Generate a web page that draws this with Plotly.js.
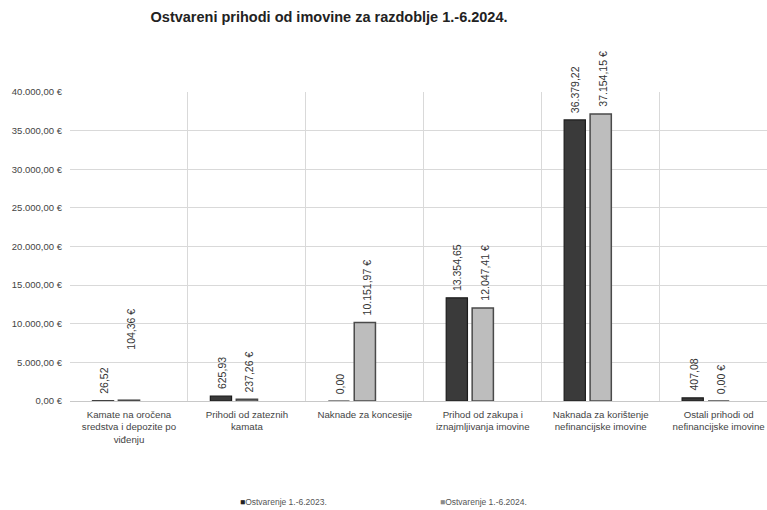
<!DOCTYPE html>
<html>
<head>
<meta charset="utf-8">
<script src="https://cdn.plot.ly/plotly-3.0.1.min.js"></script>
<style>html,body{margin:0;padding:0;background:#fff;}#chart{width:767px;height:510px;}</style>
</head>
<body>
<div id="chart"></div>
<script>
const categories = [
  "Kamate na oročena<br>sredstva i depozite po<br>viđenju",
  "Prihodi od zateznih<br>kamata",
  "Naknade za koncesije",
  "Prihod od zakupa i<br>iznajmljivanja imovine",
  "Naknada za korištenje<br>nefinancijske imovine",
  "Ostali prihodi od<br>nefinancijske imovine"
];
const values2023 = [26.52, 625.93, 0, 13354.65, 36379.22, 407.08];
const values2024 = [104.36, 237.26, 10151.97, 12047.41, 37154.15, 0];
const seriesNames = ["Ostvarenje 1.-6.2023.", "Ostvarenje 1.-6.2024."];
const tickValues = [0, 5000, 10000, 15000, 20000, 25000, 30000, 35000, 40000];
const tickLabels = ["0,00 €", "5.000,00 €", "10.000,00 €", "15.000,00 €", "20.000,00 €", "25.000,00 €", "30.000,00 €", "35.000,00 €", "40.000,00 €"];

// style: extra upward shift (px) of individual 2024 labels as placed in the original
const lift2024 = [44, 0, 0, 0, 0, 0];

function fmt(v) {
  const parts = v.toFixed(2).split(".");
  parts[0] = parts[0].replace(/\B(?=(\d{3})+(?!\d))/g, ".");
  return parts[0] + "," + parts[1];
}

const FONT = "Liberation Sans, Arial, sans-serif";
const colors = ["#3a3a3a", "#bdbdbd"];

const traces = [
  {
    type: "bar", name: seriesNames[0], x: categories, y: values2023,
    width: 0.18, offset: -0.31,
    marker: {color: colors[0], line: {color: "#1c1c1c", width: 1.2}},
    hoverinfo: "skip", showlegend: false
  },
  {
    type: "bar", name: seriesNames[1], x: categories, y: values2024,
    width: 0.18, offset: -0.09,
    marker: {color: colors[1], line: {color: "#4a4a4a", width: 1.5}},
    hoverinfo: "skip", showlegend: false
  }
];

const annotations = [];
categories.forEach((c, i) => {
  annotations.push({
    x: c, y: values2023[i], xref: "x", yref: "y",
    text: fmt(values2023[i]), showarrow: false, textangle: -90,
    xanchor: "center", yanchor: "bottom", xshift: -25, yshift: 5,
    font: {family: FONT, size: 10.5, color: "#333"}
  });
  annotations.push({
    x: c, y: values2024[i], xref: "x", yref: "y",
    text: fmt(values2024[i]) + " €", showarrow: false, textangle: -90,
    xanchor: "center", yanchor: "bottom", xshift: 2, yshift: 5 + lift2024[i],
    font: {family: FONT, size: 10.5, color: "#333"}
  });
});

// legend drawn as text entries
const legendX = [238, 438];
seriesNames.forEach((n, k) => {
  annotations.push({
    xref: "paper", yref: "paper",
    x: (legendX[k] - 70) / 697, y: (401 - 502) / 309,
    xanchor: "left", yanchor: "middle", showarrow: false,
    text: "<span style='color:" + (k === 0 ? "#222" : "#8a8a8a") + "'>■</span>" + n,
    font: {family: FONT, size: 8.5, color: "#555"}
  });
});

const layout = {
  width: 767, height: 510,
  margin: {l: 70, r: 0, t: 92, b: 109},
  paper_bgcolor: "#fff", plot_bgcolor: "#fff",
  barmode: "overlay",
  title: {
    text: "Ostvareni prihodi od imovine za razdoblje 1.-6.2024.",
    x: 0.429, xref: "container", xanchor: "center",
    y: 0.967, yref: "container", yanchor: "middle",
    font: {family: FONT, size: 14.5, color: "#222", weight: "bold"}
  },
  xaxis: {
    type: "category", range: [-0.5, 5.41],
    tickson: "boundaries", ticks: "", showgrid: true,
    gridcolor: "#d9d9d9", gridwidth: 1,
    showline: false, zeroline: false,
    ticklabelstandoff: 6,
    tickfont: {family: FONT, size: 9.7, color: "#444"},
    fixedrange: true
  },
  yaxis: {
    range: [0, 40000], tickvals: tickValues, ticktext: tickLabels,
    showgrid: true, gridcolor: "#d9d9d9", gridwidth: 1,
    zeroline: true, zerolinecolor: "#c8c8c8", zerolinewidth: 1,
    showline: false, ticks: "",
    ticklabelstandoff: 7,
    tickfont: {family: FONT, size: 9.5, color: "#444"},
    fixedrange: true
  },
  showlegend: false,
  annotations: annotations
};

Plotly.newPlot("chart", traces, layout, {displayModeBar: false, staticPlot: true});
</script>
</body>
</html>
